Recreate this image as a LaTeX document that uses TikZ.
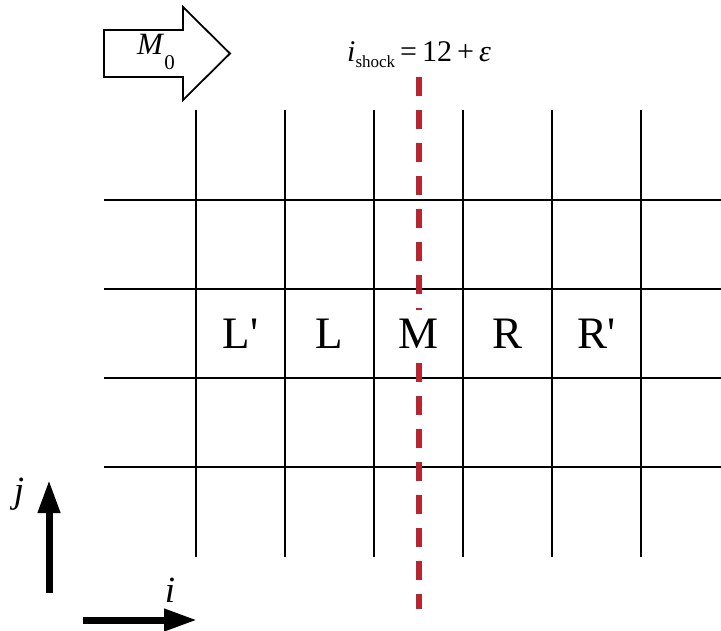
\documentclass[tikz,border=0pt]{standalone}
\usepackage{fontspec}
\setmainfont{Liberation Serif}
\usepackage{xcolor}
\usetikzlibrary{arrows.meta, positioning}
\definecolor{shockred}{RGB}{183,37,48}

\begin{document}
\begin{tikzpicture}[
  x=1pt, y=-1pt,
  gridline/.style={line width=1.7pt},
  cell/.style={anchor=base, inner xsep=4pt, inner ysep=8.5pt, text height=30pt, text depth=6pt, font=\fontsize{45}{50}\selectfont},
  shock/.style={draw=shockred, line width=5.5pt, dash pattern=on 19pt off 14pt},
  axis/.style={line width=7pt, -{Triangle[length=33pt, width=21pt]}},
  flow/.style={draw, line width=1.8pt, line join=miter},
  lbl/.style={inner sep=0pt, anchor=base}
]
  \useasboundingbox (0,0) rectangle (721,630);

  % 1. Grid lines
  \foreach \x in {196,285,374,463,552,641}
    \draw[gridline] (\x,110) -- (\x,557);
  \foreach \y in {200,289,378,467}
    \draw[gridline] (104,\y) -- (721,\y);

  % 2. Cell labels (middle row)
  \foreach \name/\x/\txt in {Lp/240.5/L\textquotesingle, L/329.5/L, M/419/M, R/507.5/R, Rp/596.5/R\textquotesingle}
    \node[cell] (\name) at (\x,348.5) {\txt};

  % 3. Shock position
  \coordinate (shocktop) at (419,77);
  \coordinate (shockbot) at (419,609);
  \draw[shock] (shocktop) -- (M.north);
  \draw[shock] (M.south) -- (shockbot);
  \node[lbl, anchor=base west] (shocklabel) at (347,61)
    {\fontsize{30}{36}\selectfont\textit{i}\raisebox{-0.2em}{\fontsize{17}{20}\selectfont shock}\,=\,12\,+\,\textit{ε}};

  % 4. Inflow arrow
  \draw[flow] (104,30) -- (183,30) -- (183,7) -- (230,53.5) -- (183,100) -- (183,77) -- (104,77) -- cycle;
  \node[lbl, anchor=base west] (machlabel) at (137,54)
    {\fontsize{31}{36}\selectfont\textit{M}\raisebox{-0.5em}{\fontsize{21}{24}\selectfont 0}};

  % 5. Index directions
  \coordinate (jtail) at (49,593);
  \coordinate (jtip) at (49,480);
  \coordinate (itail) at (83,620);
  \coordinate (itip) at (197,620);
  \draw[axis] (jtail) -- (jtip);
  \draw[axis] (itail) -- (itip);
  \node[lbl, font=\fontsize{37}{40}\selectfont\itshape] (jlabel) at (19,502) {j};
  \node[lbl, font=\fontsize{37}{40}\selectfont\itshape] (ilabel) at (170,602) {i};

\end{tikzpicture}
\end{document}
